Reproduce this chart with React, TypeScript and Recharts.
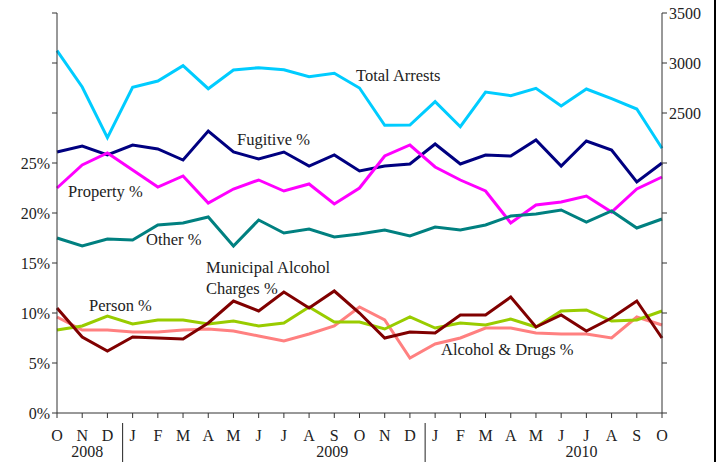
import React from "react";
import { LineChart, Line, XAxis, YAxis } from "recharts";

const months = ["O", "N", "D", "J", "F", "M", "A", "M", "J", "J", "A", "S", "O", "N", "D", "J", "F", "M", "A", "M", "J", "J", "A", "S", "O"];

const totalArrests = [3123, 2760, 2253, 2757, 2820, 2973, 2743, 2930, 2953, 2933, 2863, 2897, 2750, 2377, 2380, 2613, 2363, 2710, 2673, 2747, 2570, 2740, 2643, 2540, 2147];
const fugitive = [26.1, 26.7, 25.8, 26.8, 26.4, 25.3, 28.2, 26.1, 25.4, 26.1, 24.7, 25.8, 24.2, 24.7, 24.9, 26.9, 24.9, 25.8, 25.7, 27.3, 24.7, 27.2, 26.3, 23.1, 25.0];
const property = [22.5, 24.8, 26.0, 24.3, 22.6, 23.7, 21.0, 22.4, 23.3, 22.2, 22.9, 20.9, 22.5, 25.7, 26.8, 24.6, 23.3, 22.2, 19.0, 20.8, 21.1, 21.7, 20.1, 22.4, 23.6];
const other = [17.5, 16.7, 17.4, 17.3, 18.8, 19.0, 19.6, 16.7, 19.3, 18.0, 18.4, 17.6, 17.9, 18.3, 17.7, 18.6, 18.3, 18.8, 19.7, 19.9, 20.3, 19.1, 20.2, 18.5, 19.4];
const person = [8.3, 8.7, 9.7, 8.9, 9.3, 9.3, 8.9, 9.2, 8.7, 9.0, 10.6, 9.1, 9.1, 8.4, 9.6, 8.5, 9.0, 8.8, 9.4, 8.6, 10.2, 10.3, 9.2, 9.3, 10.2];
const municipal = [10.5, 7.6, 6.2, 7.6, 7.5, 7.4, 9.0, 11.2, 10.2, 12.1, 10.5, 12.2, 10.0, 7.5, 8.1, 8.0, 9.8, 9.8, 11.6, 8.6, 9.8, 8.2, 9.5, 11.2, 7.5];
const alcoholDrugs = [9.6, 8.3, 8.3, 8.1, 8.1, 8.3, 8.4, 8.2, 7.7, 7.2, 7.9, 8.7, 10.6, 9.3, 5.5, 6.9, 7.5, 8.5, 8.5, 8.0, 7.9, 7.9, 7.5, 9.6, 8.8];

const leftTicks = [0, 5, 10, 15, 20, 25, 30, 35, 40];
const rightTicks = [-500, 0, 500, 1000, 1500, 2000, 2500, 3000, 3500];

// year labels and separators, by month index
const yearLabels: Record<number, { text: string; dx: number }> = {
  1: { text: "2008", dx: 5 },
  11: { text: "2009", dx: -2 },
  21: { text: "2010", dx: -5 },
};
const separators = [3, 15];

const data = months.map((m, i) => ({
  idx: i,
  month: m,
  total: totalArrests[i],
  fugitive: fugitive[i],
  property: property[i],
  other: other[i],
  person: person[i],
  municipal: municipal[i],
  alcoholDrugs: alcoholDrugs[i],
}));

const font = "'Liberation Serif', 'Times New Roman', serif";
const ink = "#222";

const MonthTick = (props: any) => {
  const { x, y, payload, index } = props;
  const i = payload.value as number;
  const year = yearLabels[i];
  return (
    <g>
      <text x={x} y={y + 21} textAnchor="middle" fontSize={16} fontFamily={font} fill={ink}>
        {months[i]}
      </text>
      {year && (
        <text x={x + year.dx} y={y + 37} textAnchor="middle" fontSize={16} fontFamily={font} fill={ink}>
          {year.text}
        </text>
      )}
      {separators.includes(i) && (
        <line x1={x - 10} x2={x - 10} y1={y + 3} y2={y + 45} stroke={ink} strokeWidth={1} />
      )}
    </g>
  );
};

const notes = [
  { text: "Total Arrests", x: 356, y: 81 },
  { text: "Fugitive %", x: 237, y: 145 },
  { text: "Property %", x: 68, y: 197 },
  { text: "Other %", x: 146, y: 245 },
  { text: "Municipal Alcohol", x: 206, y: 273 },
  { text: "Charges %", x: 206, y: 294 },
  { text: "Person %", x: 89, y: 311 },
  { text: "Alcohol & Drugs %", x: 441, y: 355 },
];

const App = () => {
  return (
    <div style={{ position: "absolute", left: 0, top: 0, width: 722, height: 462, background: "#fff" }}>
      <LineChart
        width={722}
        height={462}
        data={data}
        margin={{ top: 13, right: 0, left: 0, bottom: 0 }}
      >
        <XAxis
          dataKey="idx"
          height={49}
          interval={0}
          tickSize={5}
          tick={<MonthTick />}
          stroke="#333"
          tickLine={{ stroke: "#333" }}
        />
        <YAxis
          yAxisId="pct"
          width={57}
          domain={[0, 40]}
          ticks={leftTicks}
          interval={0}
          tickSize={5}
          tickFormatter={(v: number) => (v <= 25 ? `${v}%` : "")}
          tick={{ fontSize: 16, fontFamily: font, fill: ink }}
          stroke="#333"
        />
        <YAxis
          yAxisId="total"
          orientation="right"
          width={60}
          domain={[-500, 3500]}
          ticks={rightTicks}
          interval={0}
          tickSize={5}
          tickFormatter={(v: number) => (v >= 2500 ? `${v}` : "")}
          tick={{ fontSize: 16, fontFamily: font, fill: ink }}
          stroke="#333"
        />
        <Line yAxisId="total" dataKey="total" stroke="#00CCFF" strokeWidth={3} dot={false} isAnimationActive={false} />
        <Line yAxisId="pct" dataKey="fugitive" stroke="#000080" strokeWidth={3} dot={false} isAnimationActive={false} />
        <Line yAxisId="pct" dataKey="property" stroke="#FF00FF" strokeWidth={3} dot={false} isAnimationActive={false} />
        <Line yAxisId="pct" dataKey="other" stroke="#008080" strokeWidth={3} dot={false} isAnimationActive={false} />
        <Line yAxisId="pct" dataKey="alcoholDrugs" stroke="#FF8080" strokeWidth={3} dot={false} isAnimationActive={false} />
        <Line yAxisId="pct" dataKey="person" stroke="#99CC00" strokeWidth={3} dot={false} isAnimationActive={false} />
        <Line yAxisId="pct" dataKey="municipal" stroke="#800000" strokeWidth={3} dot={false} isAnimationActive={false} />
      </LineChart>
      <svg
        width={722}
        height={462}
        style={{ position: "absolute", left: 0, top: 0, pointerEvents: "none" }}
      >
        {notes.map((n) => (
          <text key={n.text} x={n.x} y={n.y} fontSize={16.5} fontFamily={font} fill={ink}>
            {n.text}
          </text>
        ))}
        <line x1={715} x2={715} y1={0} y2={462} stroke="#000" strokeWidth={2} />
      </svg>
    </div>
  );
};

export default App;
